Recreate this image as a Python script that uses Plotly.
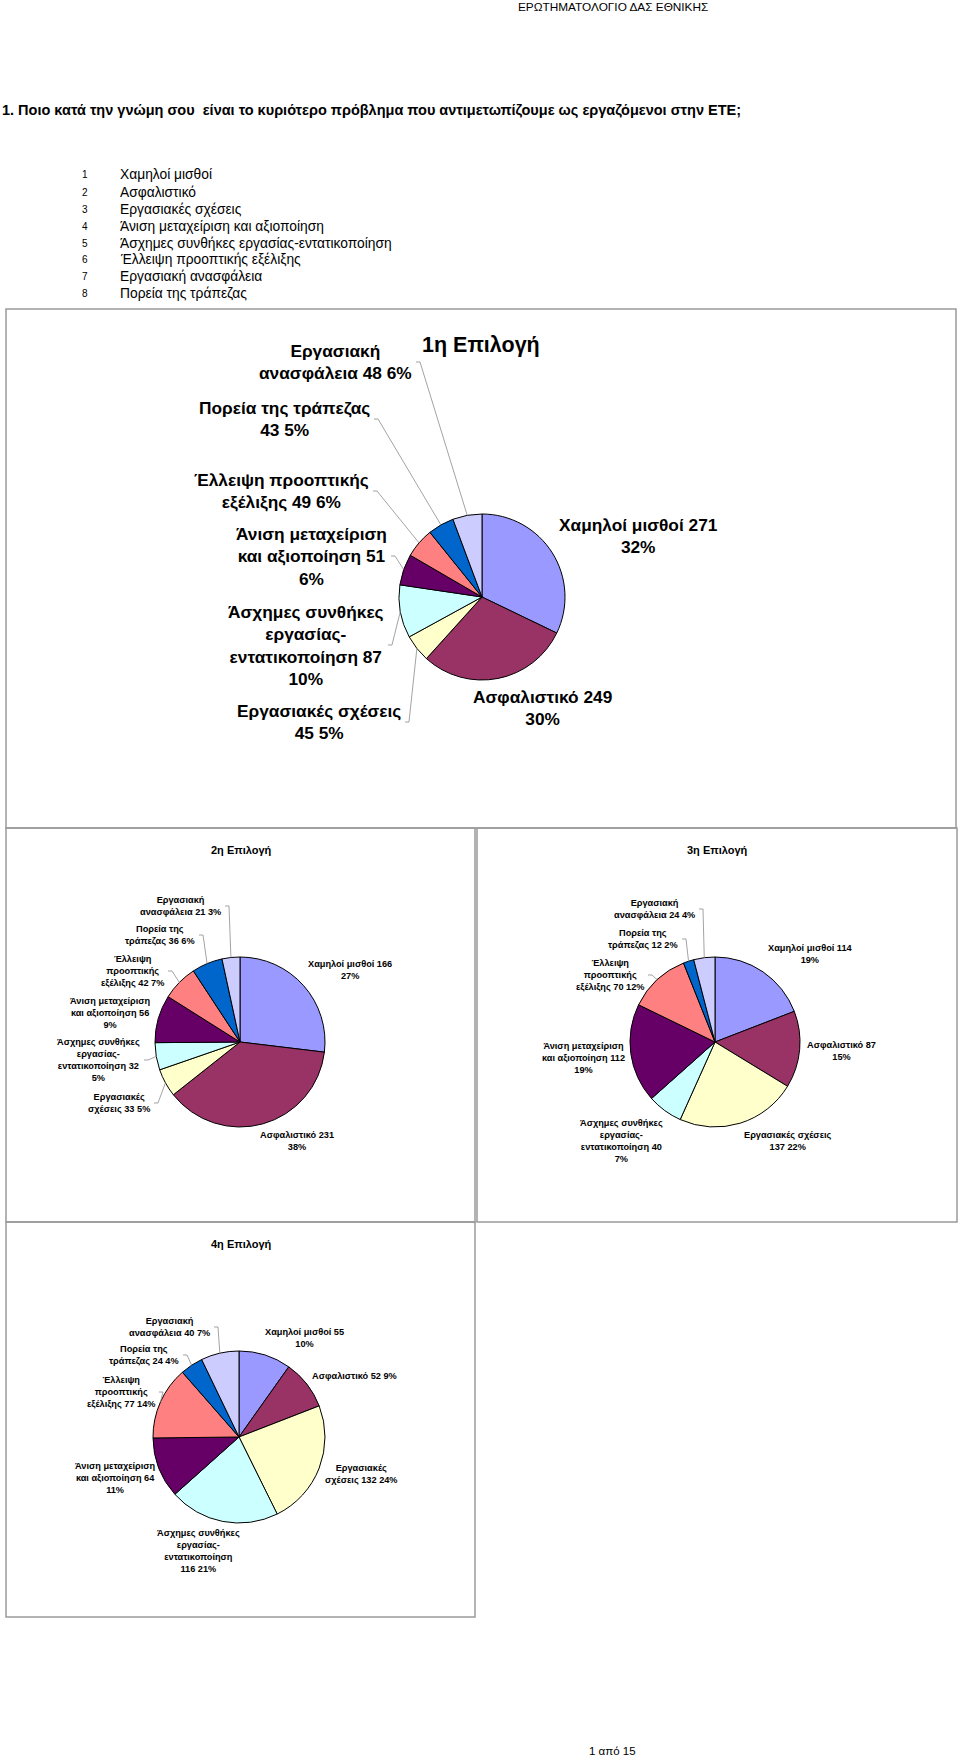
import numpy as np
import plotly.graph_objects as go

W, H = 960, 1760
FONT = "Liberation Sans, Arial, sans-serif"

# ---------------- data ----------------
header_text = "ΕΡΩΤΗΜΑΤΟΛΟΓΙΟ ΔΑΣ ΕΘΝΙΚΗΣ"
question = "1. Ποιο κατά την γνώμη σου  είναι το κυριότερο πρόβλημα που αντιμετωπίζουμε ως εργαζόμενοι στην ΕΤΕ;"
footer_text = "1 από 15"

list_numbers = ["1", "2", "3", "4", "5", "6", "7", "8"]
list_items = ["Χαμηλοί μισθοί", "Ασφαλιστικό", "Εργασιακές σχέσεις",
              "Άνιση μεταχείριση και αξιοποίηση",
              "Άσχημες συνθήκες εργασίας-εντατικοποίηση",
              "Έλλειψη προοπτικής εξέλιξης", "Εργασιακή ανασφάλεια",
              "Πορεία της τράπεζας"]

# slice order (clockwise from 12 o'clock)
categories = ["Χαμηλοί μισθοί", "Ασφαλιστικό", "Εργασιακές σχέσεις",
              "Άσχημες συνθήκες εργασίας-εντατικοποίηση",
              "Άνιση μεταχείριση και αξιοποίηση",
              "Έλλειψη προοπτικής εξέλιξης", "Πορεία της τράπεζας",
              "Εργασιακή ανασφάλεια"]
slice_colors = ["#9999FF", "#993366", "#FFFFCC", "#CCFFFF",
                "#660066", "#FF8080", "#0066CC", "#CCCCFF"]

chart_titles = ["1η Επιλογή", "2η Επιλογή", "3η Επιλογή", "4η Επιλογή"]

values_1 = [271, 249, 45, 87, 51, 49, 43, 48]
pct_1 = [32, 30, 5, 10, 6, 6, 5, 6]
values_2 = [166, 231, 33, 32, 56, 42, 36, 21]
pct_2 = [27, 38, 5, 5, 9, 7, 6, 3]
values_3 = [114, 87, 137, 40, 112, 70, 12, 24]
pct_3 = [19, 15, 22, 7, 19, 12, 2, 4]
values_4 = [55, 52, 132, 116, 64, 77, 24, 40]
pct_4 = [10, 9, 24, 21, 11, 14, 4, 7]

labels_1 = ["Χαμηλοί μισθοί {v}<br>{p}%", "Ασφαλιστικό {v}<br>{p}%",
            "Εργασιακές σχέσεις<br>{v} {p}%",
            "Άσχημες συνθήκες<br>εργασίας-<br>εντατικοποίηση {v}<br>{p}%",
            "Άνιση μεταχείριση<br>και αξιοποίηση {v}<br>{p}%",
            "Έλλειψη προοπτικής<br>εξέλιξης {v} {p}%",
            "Πορεία της τράπεζας<br>{v} {p}%",
            "Εργασιακή<br>ανασφάλεια {v} {p}%"]
labels_2 = ["Χαμηλοί μισθοί {v}<br>{p}%", "Ασφαλιστικό {v}<br>{p}%",
            "Εργασιακές<br>σχέσεις {v} {p}%",
            "Άσχημες συνθήκες<br>εργασίας-<br>εντατικοποίηση {v}<br>{p}%",
            "Άνιση μεταχείριση<br>και αξιοποίηση {v}<br>{p}%",
            "Έλλειψη<br>προοπτικής<br>εξέλιξης {v} {p}%",
            "Πορεία της<br>τράπεζας {v} {p}%",
            "Εργασιακή<br>ανασφάλεια {v} {p}%"]
labels_3 = ["Χαμηλοί μισθοί {v}<br>{p}%", "Ασφαλιστικό {v}<br>{p}%",
            "Εργασιακές σχέσεις<br>{v} {p}%",
            "Άσχημες συνθήκες<br>εργασίας-<br>εντατικοποίηση {v}<br>{p}%",
            "Άνιση μεταχείριση<br>και αξιοποίηση {v}<br>{p}%",
            "Έλλειψη<br>προοπτικής<br>εξέλιξης {v} {p}%",
            "Πορεία της<br>τράπεζας {v} {p}%",
            "Εργασιακή<br>ανασφάλεια {v} {p}%"]
labels_4 = ["Χαμηλοί μισθοί {v}<br>{p}%", "Ασφαλιστικό {v} {p}%",
            "Εργασιακές<br>σχέσεις {v} {p}%",
            "Άσχημες συνθήκες<br>εργασίας-<br>εντατικοποίηση<br>{v} {p}%",
            "Άνιση μεταχείριση<br>και αξιοποίηση {v}<br>{p}%",
            "Έλλειψη<br>προοπτικής<br>εξέλιξης {v} {p}%",
            "Πορεία της<br>τράπεζας {v} {p}%",
            "Εργασιακή<br>ανασφάλεια {v} {p}%"]

# ---------------- layout (pixel positions) ----------------
def px(x):
    return x / W

def py(y):
    return 1 - y / H

charts = [
    dict(values=values_1, pct=pct_1, labels=labels_1, center=(482, 597), r=83,
         title_pos=(481, 345), title_size=21.5, label_size=17.3,
         label_pos=[(638, 536, "center", False), (542, 708, "center", False),
                    (403, 722, "right", True), (386, 645, "right", True),
                    (389, 556, "right", True), (371, 491, "right", True),
                    (372, 419, "right", True), (414, 362, "right", True)]),
    dict(values=values_2, pct=pct_2, labels=labels_2, center=(240, 1042), r=85,
         title_pos=(241, 850), title_size=11, label_size=9.2,
         label_pos=[(350, 970, "center", False), (297, 1141, "center", False),
                    (152, 1103, "right", True), (142, 1060, "right", True),
                    (153, 1013, "right", False), (166, 971, "right", True),
                    (197, 935, "right", True), (223, 906, "right", True)]),
    dict(values=values_3, pct=pct_3, labels=labels_3, center=(715, 1042), r=85,
         title_pos=(717, 850), title_size=11, label_size=9.2,
         label_pos=[(810, 954, "center", False), (841, 1051, "center", False),
                    (788, 1141, "center", False), (621, 1141, "center", False),
                    (583, 1058, "center", False), (646, 975, "right", True),
                    (680, 939, "right", True), (697, 909, "right", True)]),
    dict(values=values_4, pct=pct_4, labels=labels_4, center=(239, 1437), r=86,
         title_pos=(241, 1244), title_size=11, label_size=9.2,
         label_pos=[(304, 1338, "center", False), (354, 1376, "center", False),
                    (361, 1474, "center", False), (198, 1551, "center", False),
                    (115, 1478, "center", False), (157, 1392, "right", True),
                    (181, 1355, "right", True), (212, 1327, "right", True)]),
]

boxes = [(6, 309, 956, 828), (6, 828, 475, 1222), (477, 828, 957, 1222), (6, 1222, 475, 1617)]

fig = go.Figure()
annotations = []
shapes = []

# page boxes
for (x0, y0, x1, y1) in boxes:
    shapes.append(dict(type="rect", xref="paper", yref="paper",
                       x0=px(x0), x1=px(x1), y0=py(y1), y1=py(y0),
                       line=dict(color="#9a9a9a", width=1.5), layer="below"))

# header, question, footer
annotations.append(dict(text=header_text, x=px(613), y=py(7), xanchor="center", yanchor="middle",
                        font=dict(size=11.8, family=FONT, color="black")))
annotations.append(dict(text=question, x=px(0), y=py(110), xanchor="left", yanchor="middle",
                        font=dict(size=14.5, family=FONT, color="black", weight="bold")))
annotations.append(dict(text=footer_text, x=px(612), y=py(1751), xanchor="center", yanchor="middle",
                        font=dict(size=11.5, family=FONT, color="black")))

# numbered list
for i, (n, t) in enumerate(zip(list_numbers, list_items)):
    yy = 175 + i * 17
    annotations.append(dict(text=n, x=px(85), y=py(yy), xanchor="center", yanchor="middle",
                            font=dict(size=10, family=FONT, color="black")))
    annotations.append(dict(text=t, x=px(118), y=py(yy), xanchor="left", yanchor="middle",
                            font=dict(size=13.8, family=FONT, color="black")))

# pies
for ci, ch in enumerate(charts):
    cx, cy = ch["center"]
    r = ch["r"]
    vals = np.array(ch["values"], dtype=float)
    fig.add_trace(go.Pie(
        values=ch["values"], labels=categories, sort=False, direction="clockwise",
        rotation=0, textinfo="none", showlegend=False,
        marker=dict(colors=slice_colors, line=dict(color="black", width=1)),
        domain=dict(x=[px(cx - r), px(cx + r)], y=[py(cy + r), py(cy - r)]),
        hovertemplate="%{label}: %{value} (%{percent})<extra></extra>",
    ))
    tx, ty = ch["title_pos"]
    annotations.append(dict(text=chart_titles[ci], x=px(tx), y=py(ty), xanchor="center",
                            yanchor="middle",
                            font=dict(size=ch["title_size"], family=FONT, color="black",
                                      weight="bold")))
    total = vals.sum()
    mids = (np.cumsum(vals) - vals / 2) / total * 2 * np.pi
    for k, (tmpl, (lx, ly, anc, lead)) in enumerate(zip(ch["labels"], ch["label_pos"])):
        text = tmpl.format(v=ch["values"][k], p=ch["pct"][k])
        annotations.append(dict(text=text, x=px(lx), y=py(ly), xanchor=anc, yanchor="middle",
                                align="center",
                                font=dict(size=ch["label_size"], family=FONT, color="black",
                                          weight="bold")))
        if lead:
            ex = cx + r * np.sin(mids[k])
            ey = cy - r * np.cos(mids[k])
            sx, tx2 = lx + 2, lx + 6
            path = (f"M {px(sx):.5f} {py(ly):.5f} L {px(tx2):.5f} {py(ly):.5f} "
                    f"L {px(ex):.5f} {py(ey):.5f}")
            shapes.append(dict(type="path", xref="paper", yref="paper", path=path,
                               line=dict(color="#8c8c8c", width=0.8)))

for a in annotations:
    a.update(xref="paper", yref="paper", showarrow=False)

fig.update_layout(width=W, height=H, margin=dict(l=0, r=0, t=0, b=0),
                  paper_bgcolor="white", plot_bgcolor="white",
                  annotations=annotations, shapes=shapes,
                  font=dict(family=FONT))

fig.write_html("out.html", config={"displayModeBar": False},
               post_script="document.body.style.margin='0';document.body.style.padding='0';"
                           "document.body.style.overflow='hidden';")
